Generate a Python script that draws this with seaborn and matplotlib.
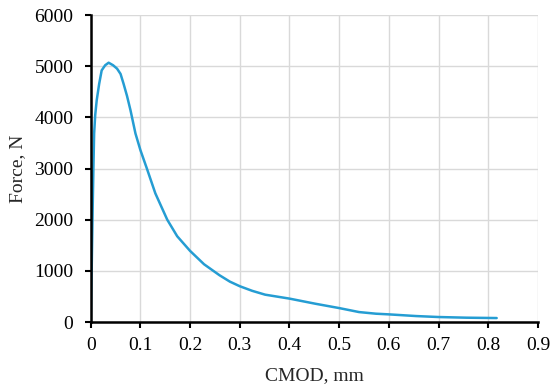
import pandas as pd
import seaborn as sns
import matplotlib.pyplot as plt

# CMOD (mm) and force (N)
cmod = [0.0, 0.001, 0.002, 0.004, 0.0054, 0.0068, 0.009, 0.012, 0.017, 0.022,
        0.029, 0.036, 0.045, 0.053, 0.060, 0.066, 0.073, 0.080, 0.090, 0.100,
        0.113, 0.130, 0.154, 0.174, 0.200, 0.228, 0.259, 0.280, 0.300, 0.325,
        0.351, 0.400, 0.452, 0.500, 0.540, 0.574, 0.600, 0.655, 0.700, 0.756,
        0.817]
force = [0, 600, 1100, 2300, 3035, 3686, 4050, 4336, 4660, 4920,
         5020, 5070, 5020, 4953, 4850, 4660, 4420, 4140, 3686, 3360,
         3000, 2516, 2000, 1677, 1390, 1130, 916, 790, 700, 610,
         535, 458, 358, 273, 195, 163, 150, 117, 98, 85,
         78]

xticks = [0, 0.1, 0.2, 0.3, 0.4, 0.5, 0.6, 0.7, 0.8, 0.9]
xticklabels = ['0', '0.1', '0.2', '0.3', '0.4', '0.5', '0.6', '0.7', '0.8', '0.9']
yticks = [0, 1000, 2000, 3000, 4000, 5000, 6000]

df = pd.DataFrame({'CMOD': cmod, 'Force': force})

sns.set_style('whitegrid')
plt.rcParams['font.family'] = ['Liberation Serif', 'DejaVu Serif']

fig = plt.figure(figsize=(5.5, 3.88), dpi=100)
ax = fig.add_axes([0.165, 0.17, 0.813, 0.791])

sns.lineplot(data=df, x='CMOD', y='Force', sort=False, color='#259dd3',
             linewidth=1.8, ax=ax)

ax.set_xlim(0, 0.9)
ax.set_ylim(0, 6000)
ax.set_xticks(xticks)
ax.set_xticklabels(xticklabels)
ax.set_yticks(yticks)
ax.set_xlabel('CMOD, mm', fontsize=14, labelpad=10)
ax.set_ylabel('Force, N', fontsize=14, labelpad=6)
ax.tick_params(labelsize=14, colors='black', length=4.5, width=1.5,
               direction='out', bottom=True, left=True)
ax.tick_params(axis='x', pad=6)
ax.tick_params(axis='y', pad=8)
ax.grid(True, color='#d9d9d9', linewidth=1)
for side in ['top', 'right']:
    ax.spines[side].set_visible(False)
for side in ['left', 'bottom']:
    ax.spines[side].set_color('black')
    ax.spines[side].set_linewidth(1.8)
ax.set_axisbelow(True)

fig.savefig('out.png', dpi=100)
